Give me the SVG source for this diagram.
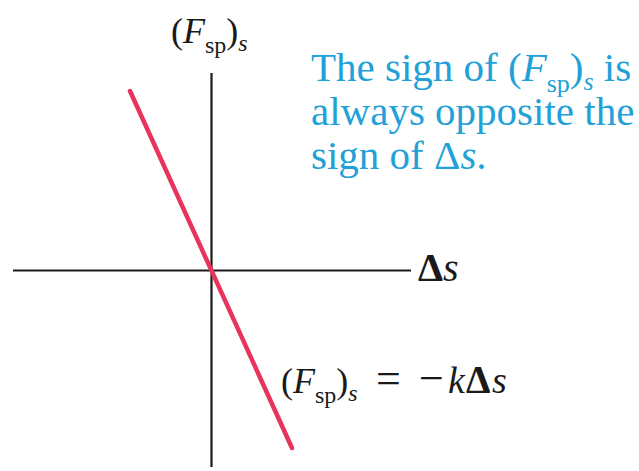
<svg xmlns="http://www.w3.org/2000/svg" width="639" height="471" viewBox="0 0 639 471">
<style>
.t{font-family:'Liberation Serif','DejaVu Serif',serif;fill:#1a1a1a}
.b{font-family:'Liberation Serif','DejaVu Serif',serif;fill:#22a0d8}
.i{font-style:italic}
.axis{stroke:#1a1a1a;stroke-width:2.2;fill:none}
.line{stroke:#e8345c;stroke-width:4.5;fill:none;stroke-linecap:round}
</style>
<rect width="639" height="471" fill="#fff"/>
<g id="connectors">
<line id="x-axis" class="axis" x1="13" y1="270.5" x2="411" y2="270.5"/>
<line id="y-axis" class="axis" x1="211.5" y1="73" x2="211.5" y2="467"/>
<line id="spring-force" class="line" x1="130" y1="91" x2="292" y2="448"/>
</g>
<g id="y-label">
<text class="t" x="171" y="43" font-size="36">(<tspan class="i">F</tspan><tspan font-size="24" dy="10">sp</tspan><tspan dy="-10">)</tspan><tspan class="i" font-size="24" dy="8">s</tspan></text>
</g>
<g id="x-label">
<text class="t" x="418" y="281" font-size="40"><tspan font-weight="bold">Δ</tspan><tspan class="i">s</tspan></text>
</g>
<g id="note">
<text class="b" x="311" y="81" font-size="41">The sign of (<tspan class="i">F</tspan><tspan font-size="26" dy="11">sp</tspan><tspan dy="-11">)</tspan><tspan class="i" font-size="26" dy="9">s</tspan><tspan dy="-9"> is</tspan></text>
<text class="b" x="311" y="125" font-size="41">always opposite the</text>
<text class="b" x="311" y="169" font-size="41">sign of Δ<tspan class="i">s</tspan>.</text>
</g>
<g id="equation">
<text class="t" x="281" y="393" font-size="36">(<tspan class="i">F</tspan><tspan font-size="24" dy="10">sp</tspan><tspan dy="-10">)</tspan><tspan class="i" font-size="24" dy="8">s</tspan><tspan dy="-8" x="376" font-size="44">=</tspan><tspan x="419" font-size="44">−</tspan><tspan class="i" x="448" font-size="38">k</tspan><tspan font-weight="bold" x="466" font-size="39">Δ</tspan><tspan class="i" x="492" font-size="38">s</tspan></text>
</g>
</svg>
